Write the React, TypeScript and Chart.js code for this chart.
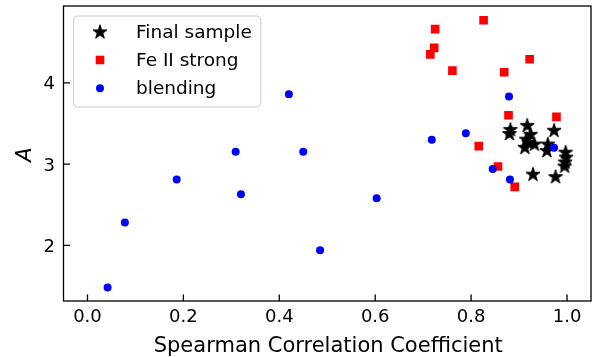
import React, { useEffect, useRef } from 'react';
import { Chart, registerables } from 'chart.js';

Chart.register(...registerables);

// ---- data ----
const finalX = [0.882, 0.880, 0.917, 0.924, 0.912, 0.920, 0.932, 0.973, 0.960, 0.958, 0.997, 0.998, 0.996, 0.995, 0.929, 0.976, 0.915];
const finalY = [3.42, 3.37, 3.47, 3.36, 3.20, 3.26, 3.24, 3.41, 3.24, 3.16, 3.14, 3.08, 3.02, 2.97, 2.87, 2.84, 3.30];

const feX = [0.826, 0.725, 0.723, 0.715, 0.761, 0.869, 0.922, 0.878, 0.978, 0.816, 0.856, 0.891];
const feY = [4.77, 4.66, 4.43, 4.35, 4.15, 4.13, 4.29, 3.60, 3.58, 3.22, 2.97, 2.72];

const blendX = [0.042, 0.078, 0.186, 0.309, 0.320, 0.420, 0.450, 0.485, 0.603, 0.718, 0.789, 0.879, 0.845, 0.881, 0.973];
const blendY = [1.48, 2.28, 2.81, 3.15, 2.63, 3.86, 3.15, 1.94, 2.58, 3.30, 3.38, 3.83, 2.94, 2.81, 3.20];

const xTicks = [0.0, 0.2, 0.4, 0.6, 0.8, 1.0];
const yTicks = [2, 3, 4];
const xTickLabels = ['0.0', '0.2', '0.4', '0.6', '0.8', '1.0'];
const yTickLabels = ['2', '3', '4'];
const xRange = [-0.05, 1.05];
const yRange = [1.315, 4.945];

const xLabel = 'Spearman Correlation Coefficient';
const yLabel = 'A';
const seriesNames = ['Final sample', 'Fe II strong', 'blending'];

const FONT = 'DejaVu Sans';
const FS = 18;
const FS_LABEL = 21;
const FS_LEGEND = 18.5;

function makeStar(): HTMLCanvasElement {
  const c = document.createElement('canvas');
  c.width = 20;
  c.height = 20;
  const g = c.getContext('2d')!;
  const R = 7.4;
  const r = R * 0.382;
  const cx = 10, cy = 10;
  g.beginPath();
  for (let i = 0; i < 10; i++) {
    const ang = -Math.PI / 2 + (i * Math.PI) / 5;
    const rad = i % 2 === 0 ? R : r;
    const x = cx + rad * Math.cos(ang);
    const y = cy + rad * Math.sin(ang);
    if (i === 0) g.moveTo(x, y);
    else g.lineTo(x, y);
  }
  g.closePath();
  g.fillStyle = '#000';
  g.fill();
  g.lineWidth = 1;
  g.lineJoin = 'miter';
  g.strokeStyle = '#000';
  g.stroke();
  return c;
}

export default function App() {
  const ref = useRef<HTMLCanvasElement>(null);

  useEffect(() => {
    const star = makeStar();

    const framePlugin = {
      id: 'frameAndLegend',
      afterDatasetsDraw(chart: any) {
        const { ctx, chartArea: a, scales } = chart;
        ctx.save();
        ctx.strokeStyle = '#000';
        ctx.lineWidth = 1.3;
        ctx.strokeRect(a.left, a.top, a.right - a.left, a.bottom - a.top);
        // inward ticks
        const tl = 6.5;
        ctx.beginPath();
        xTicks.forEach((v) => {
          const px = scales.x.getPixelForValue(v);
          ctx.moveTo(px, a.bottom);
          ctx.lineTo(px, a.bottom - tl);
        });
        yTicks.forEach((v) => {
          const py = scales.y.getPixelForValue(v);
          ctx.moveTo(a.left, py);
          ctx.lineTo(a.left + tl, py);
        });
        ctx.stroke();

        // tick labels
        ctx.fillStyle = '#000';
        ctx.font = `${FS}px "${FONT}"`;
        ctx.textBaseline = 'alphabetic';
        ctx.textAlign = 'center';
        xTicks.forEach((v, i) => {
          ctx.fillText(xTickLabels[i], scales.x.getPixelForValue(v), a.bottom + 20.5);
        });
        ctx.textAlign = 'right';
        yTicks.forEach((v, i) => {
          ctx.fillText(yTickLabels[i], a.left - 8.5, scales.y.getPixelForValue(v) + 6.5);
        });

        // axis titles
        ctx.font = `${FS_LABEL}px "${FONT}"`;
        ctx.textAlign = 'center';
        ctx.fillText(xLabel, (a.left + a.right) / 2 + 1, 352);
        ctx.save();
        ctx.translate(30.5, (a.top + a.bottom) / 2 + 1);
        ctx.rotate(-Math.PI / 2);
        ctx.font = `italic ${FS_LABEL}px "${FONT}"`;
        ctx.fillText(yLabel, 0, 0);
        ctx.restore();

        // legend
        ctx.font = `${FS_LEGEND}px "${FONT}"`;
        const textX = 136;
        const maxW = Math.max(...seriesNames.map((s) => ctx.measureText(s).width));
        const bx = 73.5, by = 16, bw = textX + maxW + 9 - bx, bh = 91;
        ctx.beginPath();
        (ctx as any).roundRect(bx, by, bw, bh, 4);
        ctx.fillStyle = 'rgba(255,255,255,0.8)';
        ctx.fill();
        ctx.strokeStyle = '#cccccc';
        ctx.lineWidth = 1;
        ctx.stroke();

        const rows = [32.3, 60, 88.3];
        const mx = 100;
        ctx.drawImage(star, mx - 10, rows[0] - 10);
        ctx.fillStyle = '#ff0000';
        ctx.fillRect(mx - 4.3, rows[1] - 4.3, 8.6, 8.6);
        ctx.fillStyle = '#0000ff';
        ctx.beginPath();
        ctx.arc(mx, rows[2], 4, 0, Math.PI * 2);
        ctx.fill();

        ctx.fillStyle = '#000';
        ctx.textAlign = 'left';
        ctx.textBaseline = 'alphabetic';
        seriesNames.forEach((s, i) => ctx.fillText(s, textX, rows[i] + 5.8));
        ctx.restore();
      },
    };

    const chart = new Chart(ref.current!, {
      type: 'scatter',
      data: {
        datasets: [
          {
            label: seriesNames[2],
            data: blendX.map((x, i) => ({ x, y: blendY[i] })),
            pointStyle: 'circle',
            pointRadius: 4,
            backgroundColor: '#0000ff',
            borderWidth: 0,
          },
          {
            label: seriesNames[1],
            data: feX.map((x, i) => ({ x, y: feY[i] })),
            pointStyle: 'rect',
            pointRadius: 6.1,
            backgroundColor: '#ff0000',
            borderWidth: 0,
          },
          {
            label: seriesNames[0],
            data: finalX.map((x, i) => ({ x, y: finalY[i] })),
            pointStyle: star as any,
            pointRadius: 10,
            backgroundColor: '#000',
            borderWidth: 0,
          },
        ],
      },
      options: {
        responsive: false,
        animation: false,
        devicePixelRatio: 1,
        layout: { autoPadding: false, padding: { left: 0, right: 4, top: 6, bottom: 0 } },
        plugins: { legend: { display: false }, tooltip: { enabled: false } },
        scales: {
          x: {
            type: 'linear',
            min: xRange[0],
            max: xRange[1],
            afterBuildTicks: (s: any) => {
              s.ticks = xTicks.map((v) => ({ value: v }));
            },
            afterFit: (s: any) => {
              s.height = 56;
            },
            grid: { display: false, drawTicks: false },
            border: { display: false },
            ticks: { display: false },
          },
          y: {
            type: 'linear',
            min: yRange[0],
            max: yRange[1],
            afterBuildTicks: (s: any) => {
              s.ticks = yTicks.map((v) => ({ value: v }));
            },
            afterFit: (s: any) => {
              s.width = 63.5;
            },
            grid: { display: false, drawTicks: false },
            border: { display: false },
            ticks: { display: false },
          },
        },
      },
      plugins: [framePlugin],
    });
    return () => chart.destroy();
  }, []);

  return (
    <div style={{ position: 'absolute', left: 0, top: 0, width: 595, height: 357, background: '#fff' }}>
      <canvas ref={ref} width={595} height={357} style={{ display: 'block', width: 595, height: 357 }} />
    </div>
  );
}
